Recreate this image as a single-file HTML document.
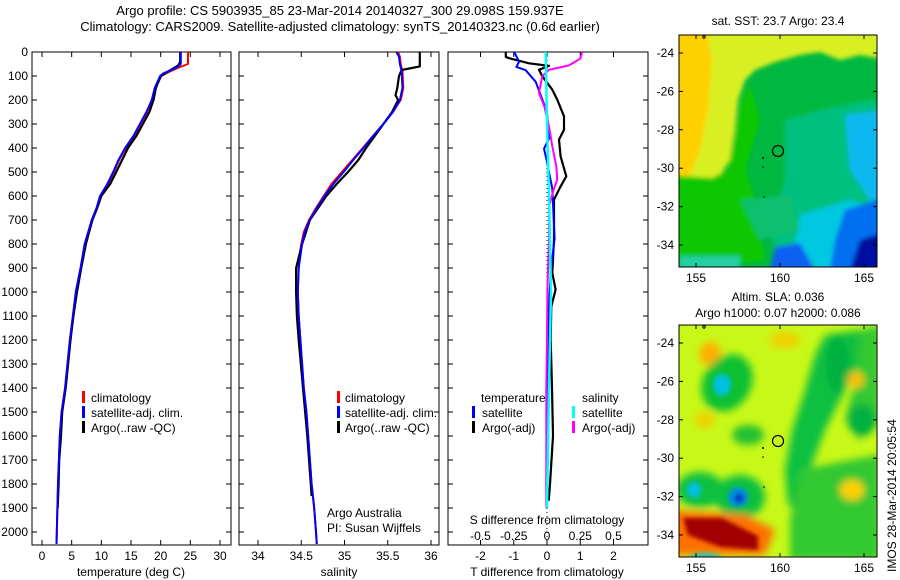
<!DOCTYPE html>
<html><head><meta charset="utf-8"><style>
body{margin:0;background:#fff;}
svg{display:block;font-family:"Liberation Sans",Arial,sans-serif;}
text{fill:#000;}
</style></head><body>
<svg id="fig" width="900" height="580" viewBox="0 0 900 580">
<defs>
<filter id="bl" x="-30%" y="-30%" width="160%" height="160%"><feGaussianBlur stdDeviation="4"/></filter>
<filter id="bl2" x="-30%" y="-30%" width="160%" height="160%"><feGaussianBlur stdDeviation="2"/></filter>
<clipPath id="m1c"><rect x="679" y="35" width="198" height="232"/></clipPath>
<clipPath id="m2c"><rect x="679" y="325" width="198" height="232"/></clipPath>
</defs>
<text x="340" y="15" font-size="13" text-anchor="middle">Argo profile: CS 5903935_85 23-Mar-2014 20140327_300 29.098S 159.937E</text>
<text x="340" y="31" font-size="13" text-anchor="middle">Climatology: CARS2009. Satellite-adjusted climatology: synTS_20140323.nc (0.6d earlier)</text>

<g id="p1"></g>
<g id="p2"></g>
<g id="p3"></g>

<g font-size="12">
<rect x="82" y="391" width="3" height="12" fill="#f00"/><text x="91" y="402">climatology</text>
<rect x="82" y="406" width="3" height="12" fill="#00f"/><text x="91" y="417">satellite-adj. clim.</text>
<rect x="82" y="421" width="3" height="12" fill="#000"/><text x="91" y="432">Argo(..raw -QC)</text>
</g>
<g font-size="12">
<rect x="337" y="391" width="3" height="12" fill="#f00"/><text x="345" y="402">climatology</text>
<rect x="337" y="406" width="3" height="12" fill="#00f"/><text x="345" y="417">satellite-adj. clim.</text>
<rect x="337" y="421" width="3" height="12" fill="#000"/><text x="345" y="432">Argo(..raw -QC)</text>
<text x="327" y="517">Argo Australia</text>
<text x="327" y="532">PI: Susan Wijffels</text>
</g>
<g font-size="12">
<text x="481" y="402">temperature</text><text x="582" y="402">salinity</text>
<rect x="472" y="406" width="3" height="12" fill="#00f"/><text x="482" y="417">satellite</text>
<rect x="472" y="421" width="3" height="12" fill="#000"/><text x="482" y="432">Argo(-adj)</text>
<rect x="572" y="406" width="3" height="12" fill="#0ff"/><text x="582" y="417">satellite</text>
<rect x="572" y="421" width="3" height="12" fill="#f0f"/><text x="582" y="432">Argo(-adj)</text>
<text x="547" y="524" text-anchor="middle">S difference from climatology</text>
</g>

<!-- Map 1 SST -->
<g>
<text x="778" y="25" font-size="12" text-anchor="middle">sat. SST: 23.7 Argo: 23.4</text>
<g clip-path="url(#m1c)">
<rect x="679" y="35" width="198" height="232" fill="#00b840"/>
<g filter="url(#bl2)">
<polygon points="670,25 890,25 890,60 860,55 840,60 820,52 800,55 775,62 755,70 745,80 738,100 735,130 730,160 720,175 710,185 670,190" fill="#d8f020"/>
<polygon points="670,25 705,25 712,60 708,110 700,150 690,175 670,180" fill="#ffd000"/>
<polygon points="670,175 712,178 728,170 735,140 742,100 750,85 760,120 745,170 755,200 765,260 670,270" fill="#10c800"/>
<polygon points="785,120 820,110 845,105 870,100 890,110 890,270 780,270 770,230 785,180" fill="#00c080"/>
<polygon points="845,115 890,110 890,205 870,200 850,170" fill="#10b8f0"/>
<polygon points="800,215 850,200 880,210 880,270 790,270" fill="#00c8e0"/>
<polygon points="845,210 890,195 890,270 830,270 835,240" fill="#0070f0"/>
<polygon points="860,240 890,230 890,270 850,270" fill="#0010a0"/>
<polygon points="775,247 800,243 815,270 770,270" fill="#1060f0"/>
<polygon points="680,256 740,256 740,270 680,270" fill="#20d0a0"/>
<polygon points="740,200 790,195 800,230 760,240" fill="#10c070"/>
</g>
</g>
<circle cx="778" cy="151" r="5.5" fill="none" stroke="#000" stroke-width="1.2"/>
<circle cx="763" cy="158" r="1" fill="#000"/><circle cx="763" cy="167" r="0.8" fill="#000"/><circle cx="764" cy="197" r="0.8" fill="#000"/><circle cx="704" cy="37" r="1.2" fill="none" stroke="#000"/>
<rect x="679" y="35" width="198" height="232" fill="none" stroke="#000" stroke-width="1"/>
<g id="m1ax"></g>
</g>

<!-- Map 2 SLA -->
<g>
<text x="778" y="301" font-size="12" text-anchor="middle">Altim. SLA: 0.036</text>
<text x="778" y="317" font-size="12" text-anchor="middle">Argo h1000: 0.07 h2000: 0.086</text>
<g clip-path="url(#m2c)">
<rect x="679" y="325" width="198" height="232" fill="#c8f818"/>
<g filter="url(#bl)">
<polygon points="825,335 860,330 865,350 845,390 825,430 810,470 800,510 788,505 785,470 792,430 805,390 815,355" fill="#10c040"/>
<polygon points="860,330 880,325 880,420 860,440 845,420 855,380" fill="#30c830"/>
<polygon points="800,470 850,460 880,455 880,560 790,560 790,520" fill="#30c830"/>
<ellipse cx="838" cy="365" rx="12" ry="28" fill="#00b040"/>
<ellipse cx="862" cy="420" rx="14" ry="16" fill="#00b040"/>
<ellipse cx="710" cy="354" rx="11" ry="12" fill="#ffb000"/>
<ellipse cx="856" cy="380" rx="8" ry="8" fill="#ffc000"/>
<ellipse cx="785" cy="340" rx="16" ry="8" fill="#f0d000"/>
<ellipse cx="727" cy="383" rx="24" ry="30" transform="rotate(30 727 383)" fill="#10c030"/>
<ellipse cx="748" cy="435" rx="16" ry="10" fill="#20c030"/>
<ellipse cx="700" cy="490" rx="24" ry="18" fill="#10c040"/>
<ellipse cx="740" cy="497" rx="25" ry="22" fill="#10c040"/>
<polygon points="670,510 745,515 775,530 765,555 670,555" fill="#ff7000"/>
<ellipse cx="852" cy="490" rx="12" ry="10" fill="#ffd000"/>
<ellipse cx="705" cy="420" rx="10" ry="8" fill="#f0d000"/>
</g>
<g filter="url(#bl2)">
<ellipse cx="722" cy="385" rx="9" ry="11" fill="#00c0e0"/>
<ellipse cx="694" cy="490" rx="7" ry="8" fill="#00c0e0"/>
<ellipse cx="738" cy="497" rx="10" ry="10" fill="#0090e0"/>
<ellipse cx="739" cy="498" rx="5" ry="5" fill="#0040c0"/>
<polygon points="683,518 722,518 758,536 758,550 720,547 688,535" fill="#a00000"/>
<ellipse cx="705" cy="558" rx="16" ry="5" fill="#20c0c0"/>
</g>
</g>
<circle cx="778" cy="441" r="5.5" fill="none" stroke="#000" stroke-width="1.2"/>
<circle cx="763" cy="448" r="1" fill="#000"/><circle cx="763" cy="457" r="0.8" fill="#000"/><circle cx="764" cy="487" r="0.8" fill="#000"/><circle cx="704" cy="327" r="1.2" fill="none" stroke="#000"/>
<rect x="679" y="325" width="198" height="232" fill="none" stroke="#000" stroke-width="1"/>
<g id="m2ax"></g>
</g>
<text x="0" y="0" font-size="12" transform="translate(896,572) rotate(-90)">IMOS 28-Mar-2014 20:05:54</text>
</svg>
<script>
const depT = [0,50,65,90,100,150,200,250,300,350,400,450,500,550,600,650,700,800,900,1000,1100,1200,1400,1500,1600,1700,1800,1900,2000,2050];
const tempSat = [23.4,23.4,22.7,20.4,19.9,19.0,18.5,17.6,16.5,15.4,14.0,12.9,12.0,11.0,9.8,9.2,8.4,7.2,6.5,5.7,5.2,4.7,3.9,3.3,3.0,2.85,2.7,2.6,2.5,2.45];
const tempClim = [24.6,24.6,23.0,20.8,20.1,19.1,18.5,17.7,16.6,15.5,14.1,13.0,12.1,11.1,9.8,9.2,8.4,7.2,6.5,5.7,5.2,4.7,3.9,3.3,3.0,2.85,2.7,2.6,2.5,2.45];
const depTA = [0,40,55,70,100,150,200,250,300,350,400,450,500,550,600,650,700,800,900,1000,1100,1200,1400,1500,1600,1700,1800,1900];
const tempArgo = [23.3,23.3,23.0,22.0,20.0,19.2,18.8,18.1,17.0,15.9,14.5,13.5,12.5,11.5,10.0,9.3,8.5,7.4,6.6,5.9,5.3,4.8,4.0,3.4,3.2,2.9,2.8,2.65];
const depS = [0,20,50,80,150,200,250,300,350,400,450,500,550,600,650,700,750,800,850,900,1000,1100,1200,1400,1500,1600,1700,1800,1900,2000,2050];
const salSat = [35.60,35.63,35.64,35.66,35.67,35.64,35.56,35.45,35.33,35.22,35.10,34.99,34.87,34.77,34.68,34.60,34.54,34.51,34.49,34.47,34.46,34.47,34.49,34.53,34.56,34.58,34.60,34.62,34.65,34.67,34.68];
const salClim = [35.62,35.64,35.65,35.67,35.68,35.65,35.56,35.45,35.33,35.21,35.09,34.97,34.85,34.76,34.67,34.59,34.53,34.50,34.48,34.47,34.46,34.47,34.49,34.53,34.56,34.58,34.60,34.62,34.65,34.67,34.68];
const depSA = [0,60,75,100,150,180,200,250,300,400,450,500,550,600,700,800,900,1000,1100,1200,1400,1600,1800,1850];
const salArgo = [35.87,35.87,35.66,35.63,35.61,35.59,35.62,35.55,35.45,35.25,35.16,35.04,34.91,34.79,34.60,34.51,34.44,34.44,34.45,34.47,34.52,34.57,34.61,34.62];
const depDT = [0,40,62,76,124,180,250,361,403,458,569,778,917,1056,1200,1400,1600,1800,1900];
const dTsat = [-0.99,-0.84,-0.92,-0.64,-0.34,-0.19,0,0.06,-0.09,0,0.16,0.23,0.11,0.06,0.04,0.02,0.01,0,0];
const depDTA = [0,20,26,47,58,74,101,157,199,268,324,365,435,518,560,615,782,921,990,1060,1199,1400,1600,1800,1870];
const dTargo = [-1.24,-1.24,-1.14,-0.54,0.06,-0.24,-0.14,0.16,0.31,0.51,0.51,0.36,0.41,0.58,0.41,0.21,0.21,0.16,0.26,0.13,0.11,0.15,0.18,0.09,0.05];
const depDS = [0,28,56,74,101,171,226,310,393,476,532,574,643,782,990,1200,1400,1600,1900];
const dSargo = [0.265,0.25,0.165,0.015,-0.035,-0.06,-0.02,0.015,0.04,0.07,0.077,0.05,0.015,0.015,0.003,0,-0.005,-0.005,-0.005];
const depDSS = [0,300,600,1000,1400,1900];
const dSsat = [-0.01,0,0.015,0.03,0.015,0];
const depthTicks = [0,100,200,300,400,500,600,700,800,900,1000,1100,1200,1300,1400,1500,1600,1700,1800,1900,2000];
const tempTicks = [0,5,10,15,20,25,30];
const salTicks = [34,34.5,35,35.5,36];
const dTTicks = [-2,-1,0,1,2];
const dSTicks = [-0.5,-0.25,0,0.25,0.5];
const lonTicks = [155,160,165];
const latTicks = [-24,-26,-28,-30,-32,-34];

const NS='http://www.w3.org/2000/svg';
function mk(parent,tag,attrs){const e=document.createElementNS(NS,tag);for(const k in attrs)e.setAttribute(k,attrs[k]);parent.appendChild(e);return e;}
const Y0=52, YB=545, dScale=0.24;
function yD(d){return Y0+d*dScale;}
function lin(d0,d1,r0,r1){return v=>r0+(v-d0)*(r1-r0)/(d1-d0);}
const xT=lin(0,30,42,220);
const xS=lin(34,36,258,431);
const xDT=lin(-2,2,480.5,613.5);
const xDS=lin(-0.5,0.5,480.5,613.5);

function frame(g,x0,x1,name){
  const r=mk(g,'rect',{x:x0,y:Y0,width:x1-x0,height:YB-Y0,fill:'none',stroke:'#000','stroke-width':1});
  
  
  depthTicks.forEach(d=>{
    mk(g,'line',{x1:x0,x2:x0+5,y1:yD(d),y2:yD(d),stroke:'#000'});
    mk(g,'line',{x1:x1,x2:x1-5,y1:yD(d),y2:yD(d),stroke:'#000'});
  });
}
function xticks(g,ticks,fx,ylab,name){
  ticks.forEach(t=>{
    const x=fx(t);
    mk(g,'line',{x1:x,x2:x,y1:Y0,y2:Y0+5,stroke:'#000'});
    mk(g,'line',{x1:x,x2:x,y1:YB,y2:YB-5,stroke:'#000'});
    const tx=mk(g,'text',{x:x,y:ylab,'font-size':12,'text-anchor':'middle'});
    tx.textContent=String(t);
    
    
  });
}
function series(g,xs,ds,fx,color,w,name){
  const pts=xs.map((v,i)=>fx(v).toFixed(1)+','+yD(ds[i]).toFixed(1)).join(' ');
  const p=mk(g,'polyline',{points:pts,fill:'none',stroke:color,'stroke-width':w,'stroke-linejoin':'round'});
  
  
}
function label(g,x,y,txt,name){
  const t=mk(g,'text',{x:x,y:y,'font-size':12,'text-anchor':'middle'});
  t.textContent=txt;
  
  
}

const p1=document.getElementById('p1');
frame(p1,32,231,'temperature-panel');
depthTicks.forEach(d=>{const t=mk(p1,'text',{x:28,y:yD(d)+4,'font-size':12,'text-anchor':'end'});t.textContent=String(d);
  
  });
xticks(p1,tempTicks,xT,560,'temperature');
label(p1,131,576,'temperature (deg C)','temperature-axis-title');
series(p1,tempClim,depT,xT,'#f00',2,'temperature-climatology-line');
series(p1,tempArgo,depTA,xT,'#000',2.2,'temperature-argo-line');
series(p1,tempSat,depT,xT,'#00f',2,'temperature-satellite-line');

const p2=document.getElementById('p2');
frame(p2,239,439,'salinity-panel');
xticks(p2,salTicks,xS,560,'salinity');
label(p2,339,576,'salinity','salinity-axis-title');
series(p2,salClim,depS,xS,'#f00',2,'salinity-climatology-line');
series(p2,salArgo,depSA,xS,'#000',2.2,'salinity-argo-line');
series(p2,salSat,depS,xS,'#00f',2,'salinity-satellite-line');

const p3=document.getElementById('p3');
frame(p3,448,648,'difference-panel');
xticks(p3,dTTicks,xDT,560,'t-difference');
dSTicks.forEach(t=>{const x=xDS(t);
  const tx=mk(p3,'text',{x:x,y:540,'font-size':12,'text-anchor':'middle'});tx.textContent=String(t);
  
  });
label(p3,547,576,'T difference from climatology','t-difference-axis-title');
const zl=mk(p3,'line',{x1:xDT(0),x2:xDT(0),y1:Y0,y2:YB,stroke:'#000','stroke-dasharray':'1,3'});


series(p3,dTargo,depDTA,xDT,'#000',2.2,'t-diff-argo-line');
series(p3,dTsat,depDT,xDT,'#00f',2,'t-diff-satellite-line');
series(p3,dSargo,depDS,xDS,'#f0f',2,'s-diff-argo-line');
series(p3,dSsat,depDSS,xDS,'#0ff',2.5,'s-diff-satellite-line');

const lonX=lin(155,165,696,864);
function mapAxes(gid,top){
  const g=document.getElementById(gid);
  const latY=v=>top+18+(-24-v)*19.2;
  const bot=top+232;
  lonTicks.forEach(l=>{const x=lonX(l);
    mk(g,'line',{x1:x,x2:x,y1:top,y2:top+4,stroke:'#000'});mk(g,'line',{x1:x,x2:x,y1:bot,y2:bot-4,stroke:'#000'});
    const t=mk(g,'text',{x:x,y:bot+15,'font-size':12,'text-anchor':'middle'});t.textContent=String(l);
    
    });
  latTicks.forEach(l=>{const y=latY(l);
    mk(g,'line',{x1:679,x2:683,y1:y,y2:y,stroke:'#000'});mk(g,'line',{x1:877,x2:873,y1:y,y2:y,stroke:'#000'});
    const t=mk(g,'text',{x:674,y:y+4,'font-size':12,'text-anchor':'end'});t.textContent=String(l);
    
    });
}
mapAxes('m1ax',35);
mapAxes('m2ax',325);
</script>
</body></html>
